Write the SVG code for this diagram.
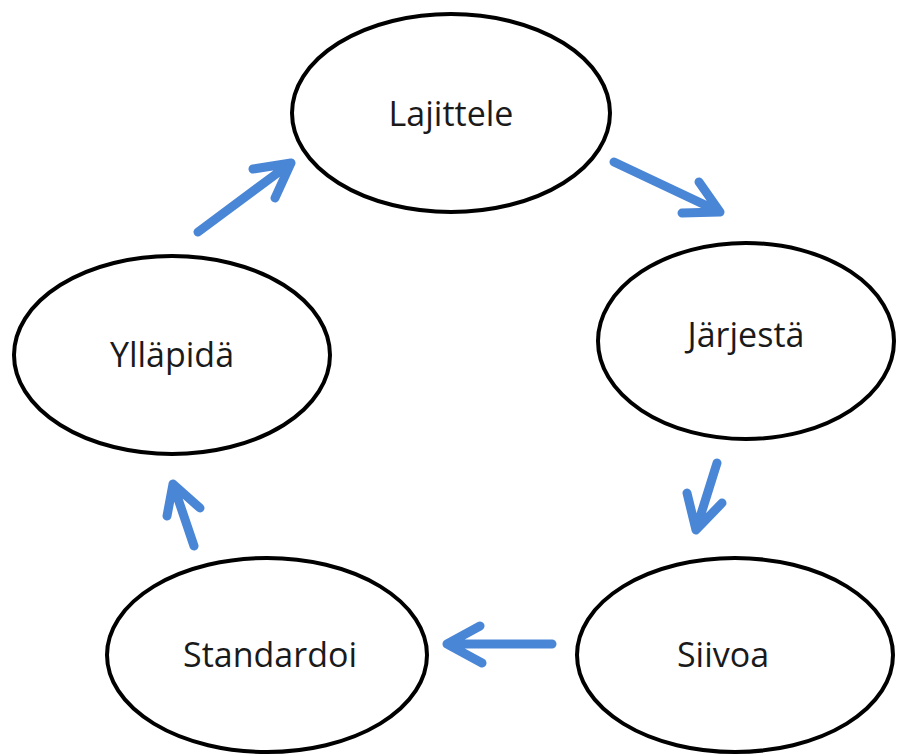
<svg xmlns="http://www.w3.org/2000/svg" width="901" height="756" viewBox="0 0 901 756">
<style>
.node{fill:#fff;stroke:#000;stroke-width:4}
.lbl{font-family:"Open Sans","Liberation Sans",sans-serif;font-size:34px;fill:#1a1a1a;text-anchor:middle}
.arr{fill:none;stroke:#4a86d6;stroke-width:9;stroke-linecap:round;stroke-linejoin:round}
</style>
<rect width="901" height="756" fill="#fff"/>
<g id="lajittele"><ellipse class="node" cx="451" cy="113" rx="159" ry="99"/><text class="lbl" x="451" y="126">Lajittele</text></g>
<g id="jarjesta"><ellipse class="node" cx="746" cy="341" rx="148" ry="98"/><text class="lbl" x="746" y="347">Järjestä</text></g>
<g id="siivoa"><ellipse class="node" cx="735" cy="655" rx="158" ry="97"/><text class="lbl" x="723" y="667">Siivoa</text></g>
<g id="standardoi"><ellipse class="node" cx="267" cy="655" rx="160" ry="97"/><text class="lbl" x="270" y="667">Standardoi</text></g>
<g id="yllapida"><ellipse class="node" cx="172" cy="355" rx="158" ry="99"/><text class="lbl" x="172" y="367">Ylläpidä</text></g>
<g id="connectors">
<path class="arr" d="M198,232 L291,163 M253,169 L291,163 L275,198"/>
<path class="arr" d="M614,162 L720,212 M699,182 L720,212 L682,213"/>
<path class="arr" d="M717,463 L696,530 M687,493 L696,530 L722,503"/>
<path class="arr" d="M552,644 L447,644 M480,626 L447,644 L482,663"/>
<path class="arr" d="M194,546 L173,484 M167,516 L173,484 L200,508"/>
</g>
</svg>
